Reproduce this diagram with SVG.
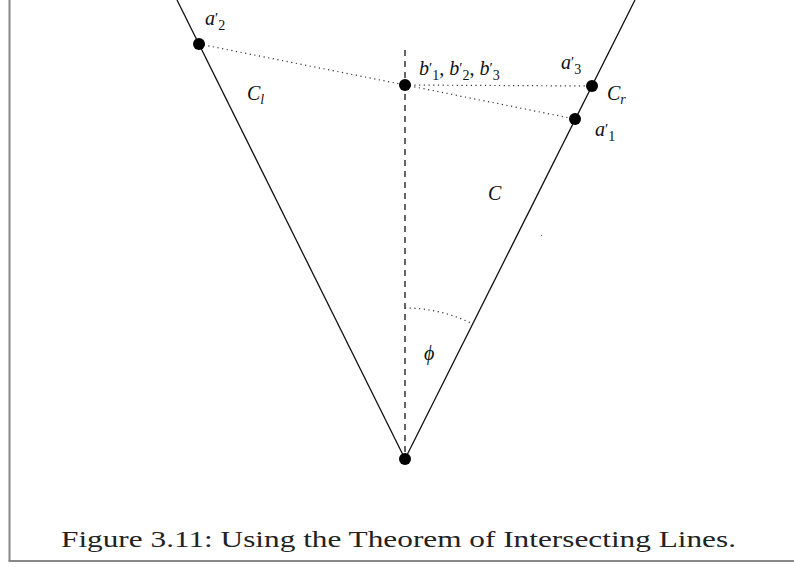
<svg xmlns="http://www.w3.org/2000/svg" width="794" height="567" viewBox="0 0 794 567">
<style>
.lbl{font-family:"Liberation Serif","DejaVu Serif",serif;font-style:italic;font-size:20px;fill:#111}
.sub{font-style:normal;font-size:14px}
.isub{font-style:italic;font-size:14px}
.pr{font-style:normal;font-size:15px}
.cap{font-family:"Liberation Serif","DejaVu Serif",serif;font-size:23px;fill:#222}
.solid{stroke:#111;stroke-width:1.3;fill:none}
.dot{stroke:#333;stroke-width:1.2;stroke-dasharray:1.2 3.5;fill:none}
.dash{stroke:#333;stroke-width:1.5;stroke-dasharray:6 5;fill:none}
.pt{fill:#000}
</style>
<rect width="794" height="567" fill="#fff"/>
<g id="frame" stroke="#888" stroke-width="2" fill="none">
<line x1="9.5" y1="0" x2="9.5" y2="561"/>
<line x1="8.5" y1="561" x2="794" y2="561"/>
</g>
<g id="connectors">
<line class="solid" x1="177" y1="0" x2="405" y2="459"/>
<line class="solid" x1="635" y1="0" x2="405" y2="459"/>
<line class="dash" x1="405" y1="50" x2="405" y2="459"/>
<line class="dot" x1="199" y1="44" x2="405" y2="85"/>
<line class="dot" x1="405" y1="85" x2="592" y2="86"/>
<line class="dot" x1="405" y1="85" x2="575" y2="119"/>
<path class="dot" d="M405 308 A151 151 0 0 1 472.7 324"/>
</g>
<g id="a2"><circle class="pt" cx="199" cy="44" r="6"/>
<text class="lbl" x="205" y="25">a<tspan class="pr" dy="-2">′</tspan><tspan class="sub" dy="7">2</tspan></text></g>
<g id="b"><circle class="pt" cx="405" cy="85" r="6"/>
<text class="lbl" x="419" y="75">b<tspan class="pr" dy="-2">′</tspan><tspan class="sub" dy="7">1</tspan><tspan dy="-5">, b</tspan><tspan class="pr" dy="-2">′</tspan><tspan class="sub" dy="7">2</tspan><tspan dy="-5">, b</tspan><tspan class="pr" dy="-2">′</tspan><tspan class="sub" dy="7">3</tspan></text></g>
<g id="a3"><circle class="pt" cx="592" cy="86" r="6"/>
<text class="lbl" x="561" y="69">a<tspan class="pr" dy="-2">′</tspan><tspan class="sub" dy="7">3</tspan></text></g>
<g id="a1"><circle class="pt" cx="575" cy="119" r="6"/>
<text class="lbl" x="595" y="136">a<tspan class="pr" dy="-2">′</tspan><tspan class="sub" dy="7">1</tspan></text></g>
<g id="apex"><circle class="pt" cx="405" cy="459" r="6"/></g>
<g id="regions">
<text class="lbl" x="247" y="100">C<tspan class="isub" dy="4">l</tspan></text>
<text class="lbl" x="607" y="100">C<tspan class="isub" dy="4">r</tspan></text>
<text class="lbl" x="488" y="200">C</text>
<text class="lbl" x="424" y="360">ϕ</text>
<circle cx="541.5" cy="235.5" r="0.7" fill="#777"/>
</g>
<text class="cap" x="61" y="547" textLength="675" lengthAdjust="spacingAndGlyphs">Figure 3.11: Using the Theorem of Intersecting Lines.</text>
</svg>
